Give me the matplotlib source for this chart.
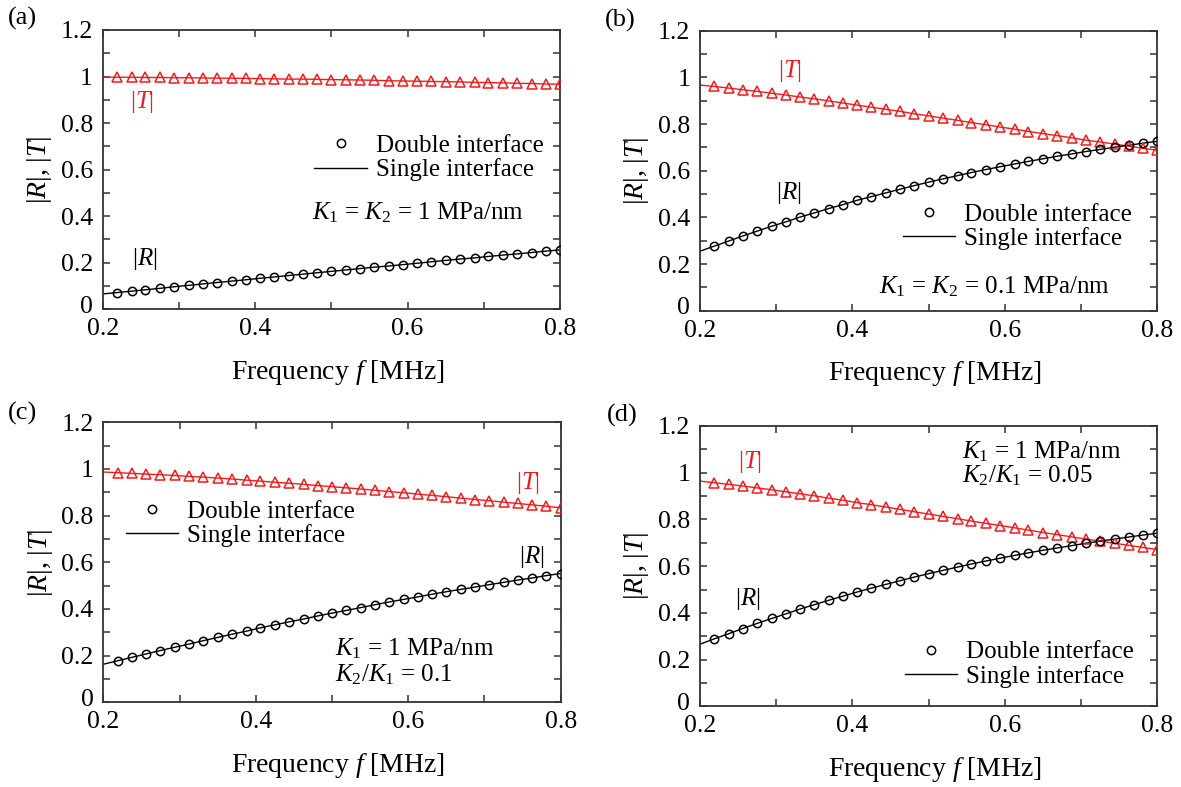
import numpy as np
import matplotlib
matplotlib.use("Agg")
import matplotlib.pyplot as plt
from matplotlib.ticker import MultipleLocator, FuncFormatter
from matplotlib.lines import Line2D
from matplotlib.transforms import ScaledTranslation

plt.rcParams['font.family'] = ['Liberation Serif', 'DejaVu Serif']
plt.rcParams['mathtext.fontset'] = 'custom'
plt.rcParams['mathtext.rm'] = 'Liberation Serif'
plt.rcParams['mathtext.it'] = 'Liberation Serif:italic'
plt.rcParams['mathtext.bf'] = 'Liberation Serif:bold'

# ---------------- data ----------------
freq = [0.219, 0.238, 0.256, 0.275, 0.294, 0.313, 0.331, 0.350, 0.369, 0.388,
        0.406, 0.425, 0.444, 0.463, 0.481, 0.500, 0.519, 0.538, 0.556, 0.575,
        0.594, 0.613, 0.631, 0.650, 0.669, 0.688, 0.706, 0.725, 0.744, 0.763,
        0.781, 0.800]
f_start = 0.2

# (a) K1 = K2 = 1 MPa/nm
R_a = [0.072, 0.078, 0.084, 0.090, 0.097, 0.103, 0.109, 0.115, 0.121, 0.127,
       0.133, 0.139, 0.145, 0.151, 0.157, 0.163, 0.169, 0.175, 0.181, 0.186,
       0.192, 0.198, 0.204, 0.210, 0.216, 0.221, 0.227, 0.233, 0.238, 0.244,
       0.250, 0.255]
T_a = [0.997, 0.997, 0.996, 0.996, 0.995, 0.995, 0.994, 0.993, 0.993, 0.992,
       0.991, 0.990, 0.989, 0.989, 0.988, 0.987, 0.986, 0.985, 0.984, 0.982,
       0.981, 0.980, 0.979, 0.978, 0.977, 0.975, 0.974, 0.973, 0.971, 0.970,
       0.968, 0.967]
R_a0, T_a0 = 0.066, 0.998

# (b) K1 = K2 = 0.1 MPa/nm
R_b = [0.277, 0.299, 0.320, 0.341, 0.362, 0.381, 0.401, 0.419, 0.438, 0.455,
       0.473, 0.489, 0.505, 0.521, 0.536, 0.551, 0.565, 0.579, 0.592, 0.605,
       0.617, 0.629, 0.640, 0.651, 0.662, 0.672, 0.682, 0.691, 0.701, 0.709,
       0.718, 0.726]
T_b = [0.961, 0.954, 0.947, 0.940, 0.932, 0.924, 0.916, 0.908, 0.899, 0.890,
       0.881, 0.872, 0.863, 0.854, 0.844, 0.835, 0.825, 0.816, 0.806, 0.797,
       0.787, 0.778, 0.768, 0.759, 0.750, 0.741, 0.731, 0.723, 0.714, 0.705,
       0.696, 0.688]
R_b0, T_b0 = 0.255, 0.967

# (c) K1 = 1 MPa/nm, K2/K1 = 0.1
R_c = [0.178, 0.193, 0.207, 0.222, 0.236, 0.250, 0.264, 0.278, 0.292, 0.305,
       0.319, 0.332, 0.345, 0.357, 0.370, 0.382, 0.394, 0.406, 0.418, 0.430,
       0.441, 0.452, 0.463, 0.474, 0.484, 0.494, 0.504, 0.514, 0.524, 0.533,
       0.543, 0.552]
T_c = [0.984, 0.981, 0.978, 0.975, 0.972, 0.968, 0.965, 0.961, 0.957, 0.952,
       0.948, 0.943, 0.939, 0.934, 0.929, 0.924, 0.919, 0.914, 0.909, 0.903,
       0.898, 0.892, 0.887, 0.881, 0.875, 0.869, 0.864, 0.858, 0.852, 0.846,
       0.840, 0.834]
R_c0, T_c0 = 0.163, 0.987

# (d) K1 = 1 MPa/nm, K2/K1 = 0.05
R_d = [0.289, 0.311, 0.333, 0.355, 0.376, 0.396, 0.416, 0.435, 0.454, 0.472,
       0.489, 0.506, 0.522, 0.538, 0.553, 0.568, 0.582, 0.596, 0.609, 0.622,
       0.634, 0.646, 0.657, 0.668, 0.678, 0.688, 0.698, 0.707, 0.716, 0.725,
       0.733, 0.741]
T_d = [0.957, 0.950, 0.943, 0.935, 0.927, 0.918, 0.910, 0.901, 0.891, 0.882,
       0.872, 0.863, 0.853, 0.843, 0.833, 0.823, 0.813, 0.803, 0.793, 0.783,
       0.774, 0.764, 0.754, 0.744, 0.735, 0.725, 0.716, 0.707, 0.698, 0.689,
       0.680, 0.671]
R_d0, T_d0 = 0.266, 0.964

panel_labels = ['(a)', '(b)', '(c)', '(d)']
x_ticks = [0.2, 0.4, 0.6, 0.8]
y_ticks = [0, 0.2, 0.4, 0.6, 0.8, 1.0, 1.2]
legend_labels = ['Double interface', 'Single interface']
xlabel = 'Frequency $f$ [MHz]'
ylabel = '|$R$|, |$T$|'

# ---------------- figure ----------------
W, H = 1181, 787
fig = plt.figure(figsize=(W / 100, H / 100), dpi=100)

def box(l, t, r, b):
    return [l / W, 1 - b / H, (r - l) / W, (b - t) / H]

axes_px = [(102.7, 30, 560, 309.3), (700, 30.7, 1157.3, 310.7),
           (103.3, 422.3, 560.7, 702.3), (700, 426, 1157.3, 706.3)]

series = [(R_a, T_a, R_a0, T_a0), (R_b, T_b, R_b0, T_b0),
          (R_c, T_c, R_c0, T_c0), (R_d, T_d, R_d0, T_d0)]

RED = '#ee1c1c'
TICK_FS = 18.5
LABEL_FS = 20
LEG_FS = 18
ANN_FS = 18

def fig_text(x, y, s, fs=ANN_FS, **kw):
    fig.text(x / W, 1 - y / H, s, fontsize=fs, **kw)

legend_pos = [(0.463, 0.625), (0.443, 0.383), (0.049, 0.722), (0.448, 0.233)]

for i, (pos, (R, T, R0, T0)) in enumerate(zip(axes_px, series)):
    ax = fig.add_axes(box(*pos))
    fl = np.r_[f_start, freq]
    ax.plot(fl, np.r_[T0, T], color=RED, lw=1.0, zorder=2)
    ax.plot(fl, np.r_[R0, R], color='black', lw=1.0, zorder=2)
    ax.plot(freq, T, linestyle='none', marker='^', ms=6.5, mfc='none',
            mec=RED, mew=1.1, zorder=3)
    ax.plot(freq, R, linestyle='none', marker='o', ms=6.0, mfc='none',
            mec='black', mew=1.1, zorder=3)
    ax.set_xlim(0.2, 0.8)
    ax.set_ylim(0, 1.2)
    ax.set_xticks(x_ticks)
    ax.set_yticks(y_ticks)
    ax.xaxis.set_minor_locator(MultipleLocator(0.1))
    ax.yaxis.set_minor_locator(MultipleLocator(0.1))
    ax.xaxis.set_major_formatter(FuncFormatter(lambda v, p: '%g' % round(v, 2)))
    ax.yaxis.set_major_formatter(FuncFormatter(lambda v, p: '%g' % round(v, 2)))
    ax.tick_params(which='both', direction='in', top=True, right=True,
                   labelsize=TICK_FS, width=1.1, color='#333333', length=5)
    ax.tick_params(axis='x', pad=6.5)
    ax.tick_params(axis='y', pad=7)
    for s in ax.spines.values():
        s.set_linewidth(1.3)
        s.set_color('#333333')
    # lift the "0" y-label slightly (as in the reference) so it clears "0.2"
    t0 = ax.yaxis.get_major_ticks()[0].label1
    t0.set_transform(t0.get_transform() +
                     ScaledTranslation(0, 5 / 100, fig.dpi_scale_trans))
    ax.set_xlabel(xlabel, fontsize=LABEL_FS, va='center')
    ax.xaxis.set_label_coords(0.514, -0.225)
    ax.set_ylabel(ylabel, fontsize=LABEL_FS, va='center')
    ax.yaxis.set_label_coords(-0.138, 0.5)
    handles = [Line2D([], [], linestyle='none', marker='o', ms=6.0, mfc='none',
                      mec='black', mew=1.1),
               Line2D([], [], color='black', lw=1.0)]
    ax.legend(handles, legend_labels, loc='upper left',
              bbox_to_anchor=legend_pos[i], frameon=False, fontsize=LEG_FS,
              handlelength=2.1, handletextpad=0.35, labelspacing=0.05,
              borderpad=0, borderaxespad=0)

# panel labels
fig_text(7.5, 18, panel_labels[0], fs=19, va='center', ha='left')
fig_text(605, 20, panel_labels[1], fs=19, va='center', ha='left')
fig_text(8, 413, panel_labels[2], fs=19, va='center', ha='left')
fig_text(607, 415, panel_labels[3], fs=19, va='center', ha='left')

# curve labels
fig_text(129.8, 102, '|$T$|', color=RED, va='center', ha='left')
fig_text(132.5, 259, '|$R$|', va='center', ha='left')
fig_text(778, 71, '|$T$|', color=RED, va='center', ha='left')
fig_text(776, 193, '|$R$|', va='center', ha='left')
fig_text(516, 483, '|$T$|', color=RED, va='center', ha='left')
fig_text(519, 557, '|$R$|', va='center', ha='left')
fig_text(738, 462, '|$T$|', color=RED, va='center', ha='left')
fig_text(735, 599, '|$R$|', va='center', ha='left')

# parameter annotations
fig_text(311.6, 213, '$K_1$ = $K_2$ = 1 MPa/nm', va='center', ha='left')
fig_text(879, 287, '$K_1$ = $K_2$ = 0.1 MPa/nm', va='center', ha='left')
fig_text(335, 649, '$K_1$ = 1 MPa/nm', va='center', ha='left')
fig_text(335, 675, '$K_2$/$K_1$ = 0.1', va='center', ha='left')
fig_text(962, 452, '$K_1$ = 1 MPa/nm', va='center', ha='left')
fig_text(962, 476, '$K_2$/$K_1$ = 0.05', va='center', ha='left')

fig.savefig('out.png', dpi=100)
